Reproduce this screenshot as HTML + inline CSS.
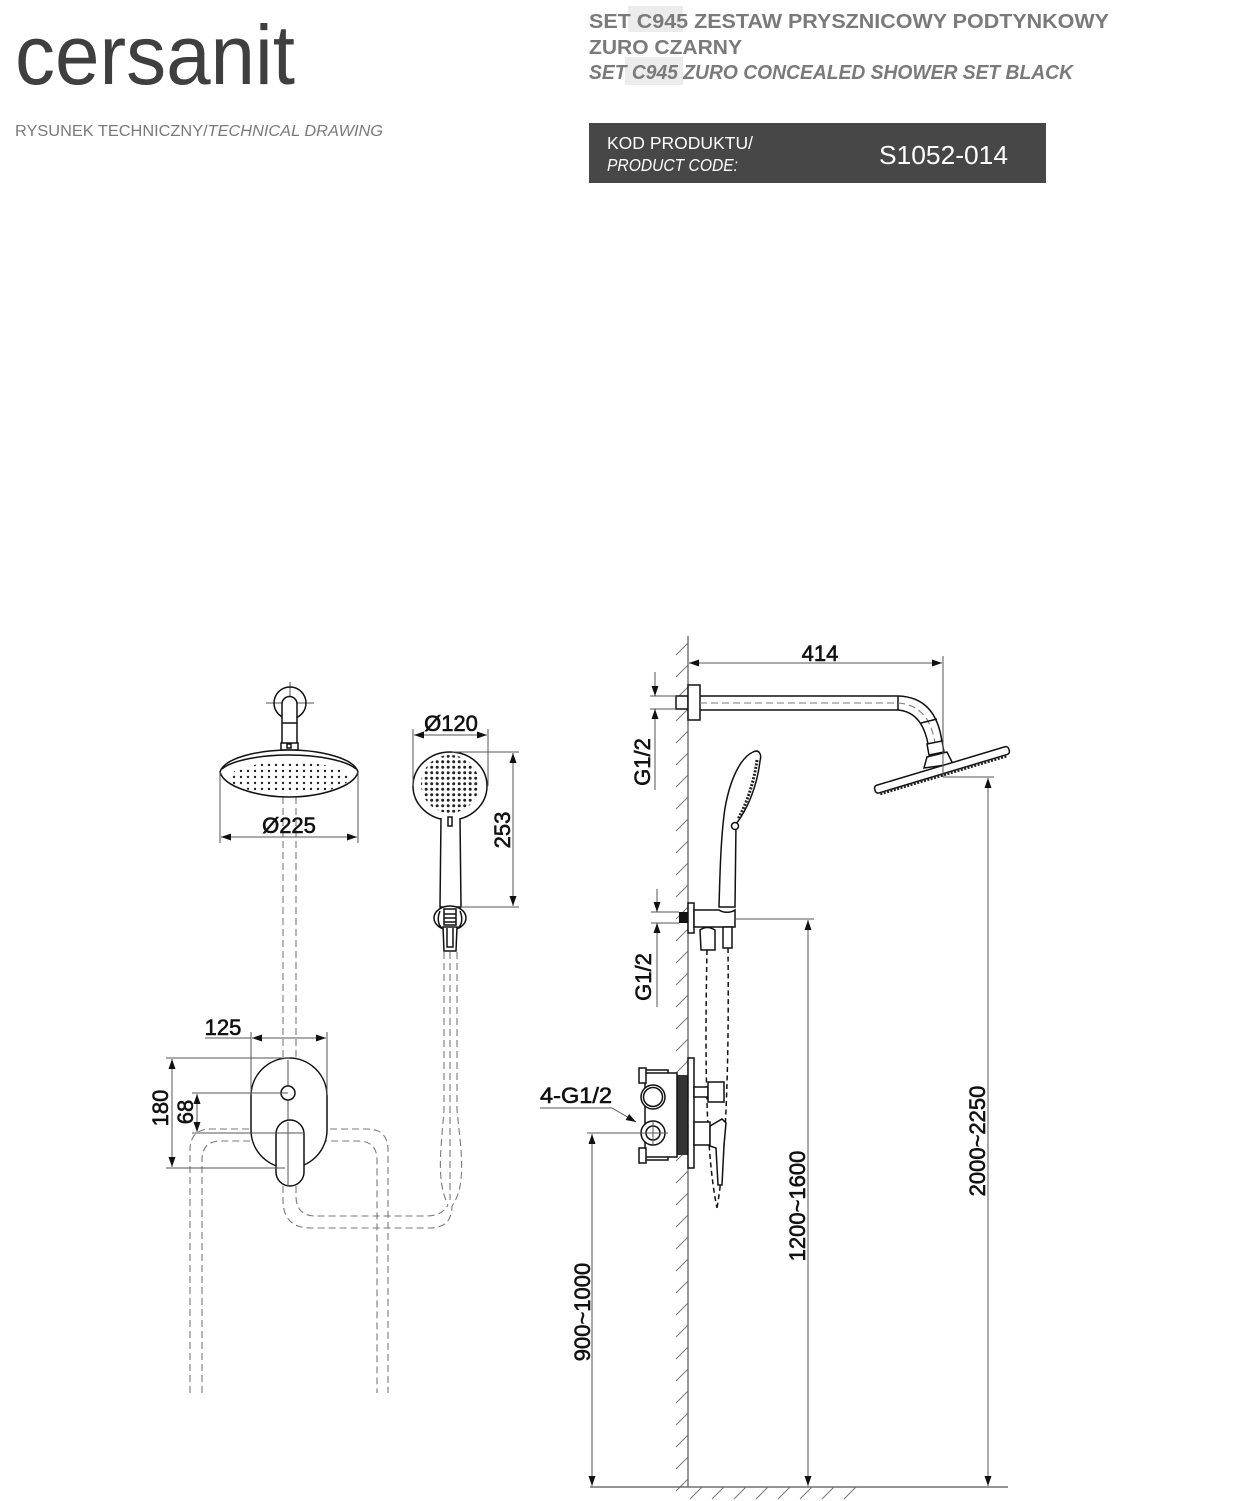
<!DOCTYPE html>
<html><head><meta charset="utf-8"><style>
html,body{margin:0;padding:0;background:#fff;}
svg{display:block;font-family:"Liberation Sans",sans-serif;}
.o{stroke:#111;stroke-width:1.5;fill:none;}
.ow{stroke:#111;stroke-width:1.5;fill:#fff;}
.d{stroke:#555;stroke-width:1;fill:none;}
.h{stroke:#7a7a7a;stroke-width:1.1;fill:none;stroke-dasharray:7 4;}
.t{font-size:22px;fill:#111;stroke:#111;stroke-width:0.6;}
</style></head><body>
<svg width="1236" height="1501" viewBox="0 0 1236 1501" xmlns="http://www.w3.org/2000/svg">
<defs>
<marker id="a" viewBox="0 0 10 7" refX="10" refY="3.5" markerWidth="10" markerHeight="7" markerUnits="userSpaceOnUse" orient="auto-start-reverse"><path d="M0,0L10,3.5L0,7z" fill="#111"/></marker>
<pattern id="pd1" width="7" height="6" patternUnits="userSpaceOnUse"><circle cx="3" cy="3" r="1.2" fill="#222"/></pattern>
<pattern id="pd2" width="5.5" height="5.5" patternUnits="userSpaceOnUse"><circle cx="2.7" cy="2.7" r="1.5" fill="#222"/></pattern>
</defs>

<!-- HEADER -->
<text x="15" y="84" font-size="84" fill="#3f3f3f" textLength="280" lengthAdjust="spacingAndGlyphs">cersanit</text>
<text x="15" y="136" font-size="16" fill="#7a7a7a" textLength="368" lengthAdjust="spacingAndGlyphs">RYSUNEK TECHNICZNY/<tspan font-style="italic">TECHNICAL DRAWING</tspan></text>

<rect x="628" y="6" width="55" height="26" fill="#ececec"/>
<rect x="625" y="57" width="58" height="28" fill="#ececec"/>
<text x="589" y="28" font-size="20" font-weight="bold" fill="#7a7a7a" textLength="520" lengthAdjust="spacingAndGlyphs">SET C945 ZESTAW PRYSZNICOWY PODTYNKOWY</text>
<text x="589" y="54" font-size="20" font-weight="bold" fill="#7a7a7a" textLength="153" lengthAdjust="spacingAndGlyphs">ZURO CZARNY</text>
<text x="589" y="79" font-size="20" font-weight="bold" font-style="italic" fill="#7a7a7a" textLength="484" lengthAdjust="spacingAndGlyphs">SET C945 ZURO CONCEALED SHOWER SET BLACK</text>

<rect x="589" y="123" width="457" height="60" fill="#474747"/>
<text x="607" y="149" font-size="17.5" fill="#fff" textLength="146" lengthAdjust="spacingAndGlyphs">KOD PRODUKTU/</text>
<text x="607" y="171" font-size="17.5" font-style="italic" fill="#fff" textLength="131" lengthAdjust="spacingAndGlyphs">PRODUCT CODE:</text>
<text x="879" y="164" font-size="26" fill="#fff" textLength="129" lengthAdjust="spacingAndGlyphs">S1052-014</text>

<!-- ============ LEFT FRONT VIEW ============ -->
<path class="h" d="M283,797 L283,1058 M296,797 L296,1058"/>
<path class="h" d="M283,1186 L283,1200 Q283,1228 311,1228 L430,1228 C445,1228 452,1220 452,1206"/>
<path class="h" d="M296,1186 L296,1196 Q296,1216 316,1216 L425,1216 C438,1216 444,1212 448,1205"/>
<path class="h" d="M444,952 L444,1110 C441,1150 436,1180 448,1205"/>
<path class="h" d="M457,952 L457,1110 C461,1150 467,1185 452,1206"/>
<path class="h" d="M450,952 L450,1200"/>
<path class="h" d="M190,1393 L190,1150 Q190,1129 211,1129 L367,1129 Q388,1129 388,1150 L388,1393"/>
<path class="h" d="M202,1393 L202,1160 Q202,1141 221,1141 L358,1141 Q377,1141 377,1160 L377,1393"/>

<!-- rain shower front -->
<line class="d" x1="266" y1="703" x2="314" y2="703"/>
<line class="d" x1="290" y1="682" x2="290" y2="712"/>
<circle class="o" cx="290" cy="703" r="16"/>
<path class="ow" d="M282,743 L282,704 A7.5,7.5 0 0 1 297,704 L297,743"/>
<line class="o" x1="282" y1="723" x2="297" y2="723"/>
<rect class="ow" x="281" y="743" width="17" height="7"/>
<rect class="o" x="287" y="744" width="4" height="4" stroke-width="1"/>
<path class="ow" d="M220,772 C224,758 258,750 289,750 C320,750 354,758 358,772 C354,787 320,797 289,797 C258,797 224,787 220,772 Z"/>
<path class="o" stroke-width="1" d="M222,769 C232,760 262,755 289,755 C316,755 346,760 356,769"/>
<ellipse cx="289" cy="778" rx="60" ry="16" fill="url(#pd1)"/>

<line class="d" x1="220" y1="772" x2="220" y2="843"/>
<line class="d" x1="358" y1="772" x2="358" y2="843"/>
<line class="d" x1="221" y1="837" x2="357" y2="837" marker-start="url(#a)" marker-end="url(#a)"/>
<text class="t" x="289" y="833" text-anchor="middle">Ø225</text>

<!-- hand shower front -->
<ellipse class="ow" cx="450" cy="786" rx="37" ry="34"/>
<circle cx="450" cy="784" r="29" fill="url(#pd2)"/>
<path class="ow" d="M441,818 L440,907 L461,907 L460,818"/>
<rect class="o" x="448" y="817" width="4" height="9" stroke-width="1"/>
<ellipse class="ow" cx="450" cy="918" rx="16" ry="12"/>
<path class="o" stroke-width="1" d="M440,911 C437,918 438,925 442,928 M460,911 C463,918 462,925 458,928"/>
<rect class="o" x="444" y="909" width="12" height="16" stroke-width="1"/>
<path class="o" stroke-width="1" d="M444,914 L456,914 M444,918 L456,918 M444,922 L456,922"/>
<path class="ow" d="M443,927 L444,951 L456,951 L457,927 Z"/>
<path class="o" stroke-width="1" d="M447,928 L447,947 L453,947 L453,928"/>

<line class="d" x1="413" y1="729" x2="413" y2="786"/>
<line class="d" x1="488" y1="729" x2="488" y2="786"/>
<line class="d" x1="414" y1="735" x2="487" y2="735" marker-start="url(#a)" marker-end="url(#a)"/>
<text class="t" x="451" y="731" text-anchor="middle">Ø120</text>
<line class="d" x1="452" y1="752" x2="519" y2="752"/>
<line class="d" x1="461" y1="907" x2="519" y2="907"/>
<line class="d" x1="513" y1="753" x2="513" y2="906" marker-start="url(#a)" marker-end="url(#a)"/>
<text class="t" transform="translate(510,830) rotate(-90)" text-anchor="middle">253</text>

<!-- mixer front -->
<rect class="ow" x="251" y="1058" width="76" height="110" rx="38" ry="38"/>
<line class="d" x1="288" y1="1060" x2="288" y2="1186"/>
<circle class="ow" cx="288" cy="1093" r="7"/>
<rect class="ow" x="276" y="1120" width="28" height="66" rx="14" ry="14"/>
<line class="d" x1="288" y1="1122" x2="288" y2="1186"/>

<line class="d" x1="251" y1="1032" x2="251" y2="1095"/>
<line class="d" x1="327" y1="1032" x2="327" y2="1095"/>
<line class="d" x1="205" y1="1038" x2="251" y2="1038"/>
<line class="d" x1="252" y1="1038" x2="326" y2="1038" marker-start="url(#a)" marker-end="url(#a)"/>
<text class="t" x="223" y="1035" text-anchor="middle">125</text>
<line class="d" x1="166" y1="1058" x2="290" y2="1058"/>
<line class="d" x1="166" y1="1168" x2="285" y2="1168"/>
<line class="d" x1="172" y1="1059" x2="172" y2="1167" marker-start="url(#a)" marker-end="url(#a)"/>
<text class="t" transform="translate(168,1108) rotate(-90)" text-anchor="middle">180</text>
<line class="d" x1="192" y1="1093" x2="288" y2="1093"/>
<line class="d" x1="192" y1="1133" x2="304" y2="1133"/>
<line class="d" x1="197" y1="1094" x2="197" y2="1132" marker-start="url(#a)" marker-end="url(#a)"/>
<text class="t" transform="translate(193,1112) rotate(-90)" text-anchor="middle">68</text>

<!-- ============ RIGHT SIDE VIEW ============ -->
<line x1="688" y1="636" x2="688" y2="1487" stroke="#555" stroke-width="1.2"/>
<path stroke="#777" stroke-width="1" fill="none" d="M676,655L688,643M676,677L688,665M676,699L688,687M676,721L688,709M676,743L688,731M676,765L688,753M676,787L688,775M676,809L688,797M676,831L688,819M676,853L688,841M676,875L688,863M676,897L688,885M676,919L688,907M676,941L688,929M676,963L688,951M676,985L688,973M676,1007L688,995M676,1029L688,1017M676,1051L688,1039M676,1073L688,1061M676,1095L688,1083M676,1117L688,1105M676,1139L688,1127M676,1161L688,1149M676,1183L688,1171M676,1205L688,1193M676,1227L688,1215M676,1249L688,1237M676,1271L688,1259M676,1293L688,1281M676,1315L688,1303M676,1337L688,1325M676,1359L688,1347M676,1381L688,1369M676,1403L688,1391M676,1425L688,1413M676,1447L688,1435M676,1469L688,1457M676,1491L688,1479"/>
<line x1="590" y1="1487" x2="1008" y2="1487" stroke="#555" stroke-width="1.2"/>
<path stroke="#777" stroke-width="1" fill="none" d="M690,1499L702,1487M712,1499L724,1487M734,1499L746,1487M756,1499L768,1487M778,1499L790,1487M800,1499L812,1487M822,1499L834,1487M844,1499L856,1487"/>

<!-- shower arm -->
<rect class="ow" x="676" y="696" width="12" height="13"/>
<rect class="ow" x="688" y="685" width="12" height="35"/>
<path class="o" d="M700,696 L898,696 M700,710 L898,710 M898,696 L898,710"/>
<line class="h" x1="700" y1="703" x2="898" y2="703"/>
<path class="o" d="M898,696 Q936,697 942,742 M898,710 Q922,712 928,744"/>
<path class="h" d="M898,703 Q929,705 935,743"/>
<path class="o" stroke-width="1" d="M921,723 L937,719"/>
<path class="ow" d="M927,744 L942,741 L944,752 L929,755 Z"/>
<path class="ow" d="M924,768 L927,757 L947,752 L953,764 Z"/>
<g transform="rotate(-16.7 941.5 770)">
<rect class="ow" x="872" y="766" width="140" height="8" rx="3"/>
<line x1="876" y1="775.5" x2="1008" y2="775.5" stroke="#222" stroke-width="2.5" stroke-dasharray="2 1.5"/>
</g>

<line class="d" x1="943" y1="656" x2="943" y2="777"/>
<line class="d" x1="689" y1="663" x2="942" y2="663" marker-start="url(#a)" marker-end="url(#a)"/>
<text class="t" x="820" y="661" text-anchor="middle">414</text>

<line class="d" x1="943" y1="777" x2="994" y2="777"/>
<line class="d" x1="988" y1="778" x2="988" y2="1486" marker-start="url(#a)" marker-end="url(#a)"/>
<text class="t" transform="translate(985,1141) rotate(-90)" text-anchor="middle">2000~2250</text>

<line class="d" x1="650" y1="696" x2="676" y2="696"/>
<line class="d" x1="650" y1="709" x2="676" y2="709"/>
<line class="d" x1="655" y1="672" x2="655" y2="696" marker-end="url(#a)"/>
<line class="d" x1="655" y1="790" x2="655" y2="709" marker-end="url(#a)"/>
<text class="t" transform="translate(650,762) rotate(-90)" text-anchor="middle">G1/2</text>

<!-- hand shower side -->
<path class="o" stroke-dasharray="5 3.5" stroke="#7a7a7a" stroke-width="1.1" d="M707,950 C705,1050 705,1150 717,1208 M728,948 C729,1050 727,1150 717,1208"/>
<path class="ow" d="M719,907 C720,870 721,835 725,808 C730,780 740,758 753,752 C759,749 762,754 760,761 C757,787 747,810 736,824 L735,907 Z"/>
<path fill="none" stroke="#222" stroke-width="3" stroke-dasharray="2 1.5" d="M757,760 C754,783 746,805 738,819"/>
<circle class="ow" cx="735" cy="826" r="3.5"/>
<rect x="679" y="912" width="9" height="11" fill="#111"/>
<rect class="ow" x="688" y="903" width="6" height="30"/>
<path class="ow" d="M694,910 L719,910 C723,913 731,913 735,910 L735,927 L694,927 Z"/>
<path class="ow" d="M700,930 Q707,925 715,930 L715,950 L701,950 Z"/>
<rect class="ow" x="723" y="927" width="9" height="21"/>

<line class="d" x1="651" y1="912" x2="679" y2="912"/>
<line class="d" x1="651" y1="923" x2="679" y2="923"/>
<line class="d" x1="657" y1="889" x2="657" y2="912" marker-end="url(#a)"/>
<line class="d" x1="657" y1="1007" x2="657" y2="923" marker-end="url(#a)"/>
<text class="t" transform="translate(651,977) rotate(-90)" text-anchor="middle">G1/2</text>

<line class="d" x1="735" y1="919" x2="814" y2="919"/>
<line class="d" x1="808" y1="920" x2="808" y2="1486" marker-start="url(#a)" marker-end="url(#a)"/>
<text class="t" transform="translate(805,1206) rotate(-90)" text-anchor="middle">1200~1600</text>

<!-- mixer side -->
<rect x="677" y="1075" width="11" height="80" fill="#333"/>
<rect class="ow" x="688" y="1058" width="6" height="110"/>
<rect class="ow" x="645" y="1073" width="32" height="84"/>
<rect class="ow" x="639" y="1068" width="7" height="15"/>
<rect class="ow" x="639" y="1148" width="7" height="15"/>
<path class="o" stroke-width="1" d="M646,1070 L668,1070 L668,1073"/>
<path class="o" stroke-width="1" d="M646,1160 L668,1160 L668,1157"/>
<circle class="ow" cx="653" cy="1097" r="12" stroke-width="2"/>
<circle class="o" cx="653" cy="1097" r="9.5"/>
<circle class="ow" cx="653" cy="1133" r="12" stroke-width="2"/>
<circle class="o" cx="653" cy="1133" r="7" stroke-width="2"/>
<line class="d" x1="587" y1="1133" x2="668" y2="1133"/>
<line class="d" x1="653" y1="1120" x2="653" y2="1146"/>
<rect class="ow" x="694" y="1087" width="14" height="10"/>
<rect class="ow" x="708" y="1082" width="16" height="20"/>
<rect class="ow" x="694" y="1122" width="16" height="23"/>
<path class="ow" d="M710,1126 L722,1119 L726,1123 L724,1145 L722,1185 L718,1185 L716,1148 L710,1146 Z"/>

<text class="t" x="540" y="1103" textLength="72" lengthAdjust="spacingAndGlyphs">4-G1/2</text>
<line class="d" x1="540" y1="1108" x2="612" y2="1108"/>
<line class="d" x1="612" y1="1108" x2="636" y2="1122" marker-end="url(#a)"/>

<line class="d" x1="592" y1="1134" x2="592" y2="1486" marker-start="url(#a)" marker-end="url(#a)"/>
<text class="t" transform="translate(590,1312) rotate(-90)" text-anchor="middle">900~1000</text>
</svg>
</body></html>
